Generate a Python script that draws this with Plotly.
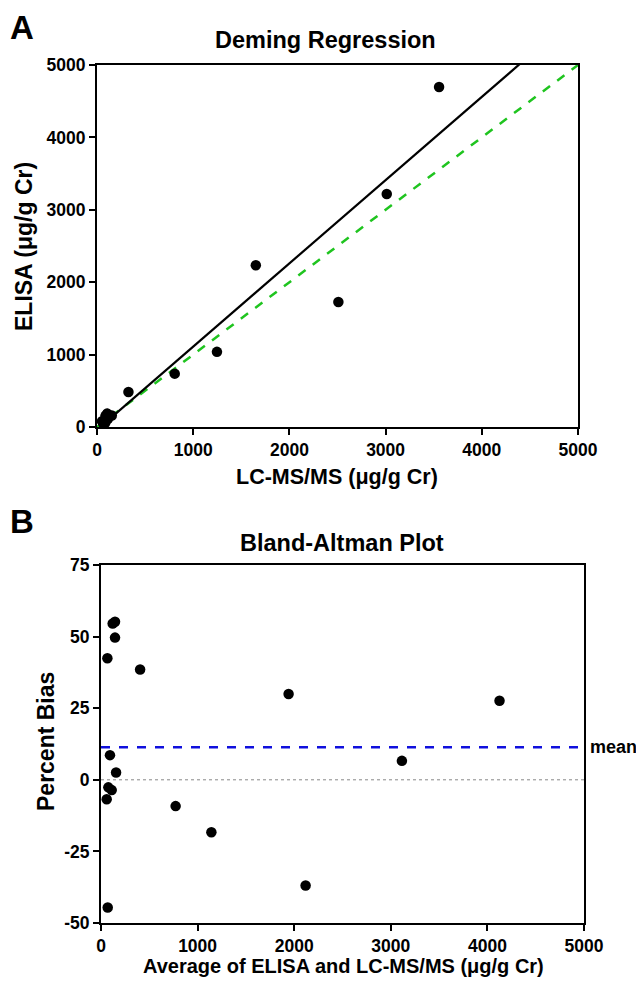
import plotly.graph_objects as go
import numpy as np

# ---- data ----
lcms = [105, 88, 109, 52, 327, 89, 154, 77, 113, 61, 808, 85, 1247, 2509, 1651, 3012, 3556]
elisa = [185, 154, 181, 80, 483, 97, 158, 75, 109, 57, 737, 54, 1038, 1727, 2233, 3218, 4695]
deming_slope = 1.15
deming_intercept = -40
axis_ticks = [0, 1000, 2000, 3000, 4000, 5000]
bias_ticks = [-50, -25, 0, 25, 50, 75]
bias_ticktext = ["-50", "-25", "0", "25", "50", "75"]

lc = np.array(lcms, dtype=float)
el = np.array(elisa, dtype=float)
avg = (lc + el) / 2
bias = (el - lc) / avg * 100
mean_bias = float(bias.mean())

# page body has an 8px margin: the figure starts at (8, 8) in the window
OFF = 8
W, H = 644 - 2 * OFF, 986 - 2 * OFF
FONT = "Liberation Sans, Arial, Helvetica, sans-serif"

def px_x(p):
    return (p - OFF) / W

def px_y(p):
    return 1 - (p - OFF) / H

fig = go.Figure()

# Panel A
line_x = [0, 5000]
fig.add_trace(go.Scatter(x=line_x, y=line_x, mode="lines",
                         line=dict(color="#1fc41f", width=2.5, dash="dash"),
                         xaxis="x", yaxis="y", showlegend=False))
fig.add_trace(go.Scatter(x=line_x, y=[deming_intercept + deming_slope * v for v in line_x],
                         mode="lines", line=dict(color="black", width=2.2),
                         xaxis="x", yaxis="y", showlegend=False))
fig.add_trace(go.Scatter(x=lcms, y=elisa, mode="markers",
                         marker=dict(color="black", size=10.5),
                         cliponaxis=False, xaxis="x", yaxis="y", showlegend=False))

# Panel B
fig.add_trace(go.Scatter(x=[0, 5000], y=[0, 0], mode="lines",
                         line=dict(color="#888888", width=1, dash="dot"),
                         xaxis="x2", yaxis="y2", showlegend=False))
fig.add_trace(go.Scatter(x=[0, 5000], y=[mean_bias, mean_bias], mode="lines",
                         line=dict(color="#1010dd", width=2.5, dash="dash"),
                         xaxis="x2", yaxis="y2", showlegend=False))
fig.add_trace(go.Scatter(x=avg, y=bias, mode="markers",
                         marker=dict(color="black", size=10.5),
                         cliponaxis=False, xaxis="x2", yaxis="y2", showlegend=False))

tickfont = dict(family=FONT, size=17.5, color="black", weight="bold")
axis_common = dict(showgrid=False, zeroline=False, showline=True, linecolor="black",
                   linewidth=2, mirror=True, ticks="outside", ticklen=6, tickwidth=2,
                   tickcolor="black", tickfont=tickfont, automargin=False)

fig.update_layout(
    width=W, height=H,
    margin=dict(l=0, r=0, t=0, b=0, autoexpand=False),
    plot_bgcolor="white", paper_bgcolor="white",
    xaxis=dict(domain=[px_x(97), px_x(578)], range=[0, 5000], tickvals=axis_ticks,
               anchor="y", **axis_common),
    yaxis=dict(domain=[px_y(427), px_y(65)], range=[0, 5000], tickvals=axis_ticks,
               anchor="x", **axis_common),
    xaxis2=dict(domain=[px_x(101), px_x(584)], range=[0, 5000], tickvals=axis_ticks,
                anchor="y2", **axis_common),
    yaxis2=dict(domain=[px_y(923), px_y(565)], range=[-50, 75], tickvals=bias_ticks,
                ticktext=bias_ticktext, anchor="x2", **axis_common),
)

def ann(text, x, y, size, angle=0, xanchor="center", yanchor="middle"):
    fig.add_annotation(text=text, x=px_x(x), y=px_y(y), xref="paper", yref="paper",
                       showarrow=False, textangle=angle, xanchor=xanchor, yanchor=yanchor,
                       font=dict(family=FONT, size=size, color="black", weight="bold"))

ann("A", 8, 27, 33, xanchor="left")
ann("B", 8, 521, 33, xanchor="left")
ann("Deming Regression", 325, 40, 23.5)
ann("Bland-Altman Plot", 342, 543, 23.5)
ann("LC-MS/MS (μg/g Cr)", 337, 477, 21.5)
ann("ELISA (μg/g Cr)", 24, 247, 23, angle=-90)
ann("Average of ELISA and LC-MS/MS (μg/g Cr)", 343, 966, 20)
ann("Percent Bias", 46, 742, 23, angle=-90)

fig.add_annotation(text="mean", x=5000, y=mean_bias, xref="x2", yref="y2",
                   showarrow=False, xanchor="left", yanchor="middle", xshift=4,
                   font=dict(family=FONT, size=18, color="black", weight="bold"))

fig.write_html("out.html")
